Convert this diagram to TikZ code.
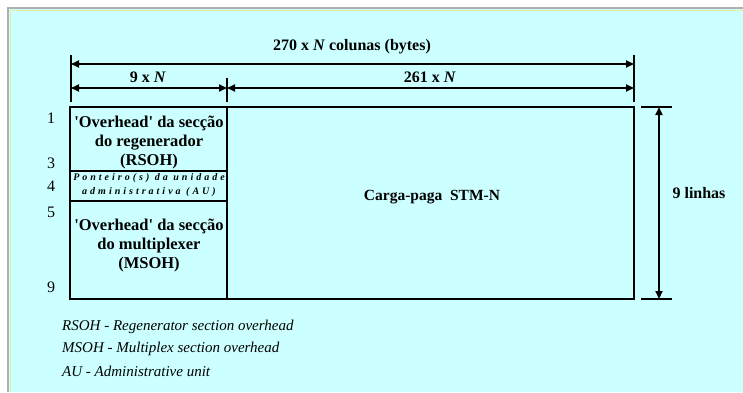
\documentclass[tikz,border=0pt]{standalone}
\usepackage{fontspec}
\setmainfont{Liberation Serif}
\newfontfamily\ptrfont[LetterSpace=30]{Liberation Serif}
\usetikzlibrary{arrows.meta}
\definecolor{framebg}{RGB}{204,255,255}
\definecolor{frameedge}{RGB}{175,175,175}
\begin{document}
\begin{tikzpicture}[x=1pt,y=-1pt]
\tikzset{
  boxline/.style={draw=black,line width=2.3pt,line join=miter},
  dimline/.style={draw=black,line width=1.8pt},
  tickline/.style={draw=black,line width=2.8pt},
  dimarrow/.style={dimline,{Triangle[length=8pt,width=7pt]}-{Triangle[length=8pt,width=7pt]}},
  boxtext/.style={font=\fontsize{16.5}{19}\selectfont\bfseries,align=center,inner sep=0pt},
  ptrtext/.style={font=\fontsize{10}{14}\selectfont\ptrfont\bfseries\itshape,align=center,inner sep=0pt},
  dimtext/.style={font=\fontsize{16}{18}\selectfont\bfseries,inner sep=0pt},
  rownum/.style={font=\fontsize{16}{18}\selectfont,inner sep=0pt},
  legendtext/.style={font=\fontsize{15}{17}\selectfont\itshape,anchor=west,inner sep=0pt}
}
% frame
\useasboundingbox (0,0) rectangle (743,392);
\fill[white] (0,0) rectangle (743,392);
\fill[framebg] (8,8) rectangle (743,392);
\draw[frameedge,line width=2pt] (8,392) -- (8,8) -- (743,8);
\draw[yellow!40!framebg,line width=1pt] (10,392) -- (10,10) -- (743,10);
% frame structure
\draw[boxline] (70,107) rectangle (634,299);
\draw[boxline] (227,107) -- (227,299);
\draw[boxline] (70,171) -- (227,171);
\draw[boxline] (70,201) -- (227,201);
\node[boxtext] (rsoh) at (149,142) {\textquotesingle Overhead\textquotesingle\ da secção\\do regenerador\\(RSOH)};
\node[ptrtext] (ptr) at (149,185.5) {Ponteiro(s) da unidade\\administrativa (AU)};
\node[boxtext] (msoh) at (149,245) {\textquotesingle Overhead\textquotesingle\ da secção\\do multiplexer\\(MSOH)};
\node[dimtext,font=\fontsize{15.5}{18}\selectfont\bfseries] (payload) at (432,197) {Carga-paga~~STM-N};
% row numbers
\node[rownum] (r1) at (51,118) {1};
\node[rownum] (r3) at (51,163) {3};
\node[rownum] (r4) at (51,186) {4};
\node[rownum] (r5) at (51,212) {5};
\node[rownum] (r9) at (51,287) {9};
% column dimensions
\coordinate (tickA1) at (71,55);   \coordinate (tickA2) at (71,102);
\coordinate (tickB1) at (227,78);  \coordinate (tickB2) at (227,102);
\coordinate (tickC1) at (634,55);  \coordinate (tickC2) at (634,102);
\draw[tickline] (tickA1) -- (tickA2);
\draw[tickline] (tickB1) -- (tickB2);
\draw[tickline] (tickC1) -- (tickC2);
\coordinate (allL) at (71,64);  \coordinate (allR) at (634,64);
\coordinate (soL) at (71,88);   \coordinate (soM) at (227,88);
\coordinate (soR) at (634,88);
\draw[dimarrow] (allL) -- (allR);
\draw[dimarrow] (soL) -- (soM);
\draw[dimarrow] (soM) -- (soR);
\node[dimtext] (cols) at (352,47) {270 x \textit{N} colunas (bytes)};
\node[dimtext] (soh) at (148,77) {9 x \textit{N}};
\node[dimtext] (pay) at (430,77) {261 x \textit{N}};
% row dimension
\coordinate (tickT1) at (641,107); \coordinate (tickT2) at (672,107);
\coordinate (tickD1) at (641,299); \coordinate (tickD2) at (672,299);
\draw[tickline] (tickT1) -- (tickT2);
\draw[tickline] (tickD1) -- (tickD2);
\coordinate (rowT) at (659,107); \coordinate (rowD) at (659,299);
\draw[dimarrow] (rowT) -- (rowD);
\node[dimtext] (rows) at (699,193) {9 linhas};
% legend
\node[legendtext] (lg1) at (62,327) {RSOH - Regenerator section overhead};
\node[legendtext] (lg2) at (62,349) {MSOH - Multiplex section overhead};
\node[legendtext] (lg3) at (62,371) {AU - Administrative unit};
\end{tikzpicture}
\end{document}
